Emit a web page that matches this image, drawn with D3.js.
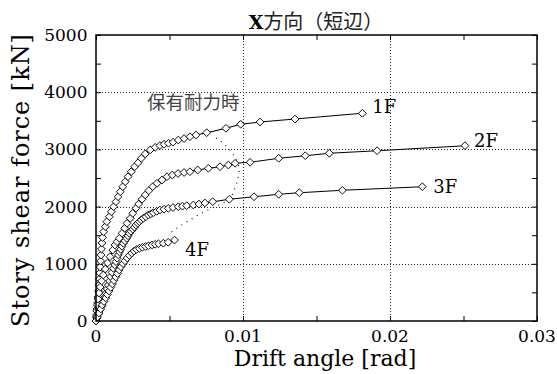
<!DOCTYPE html>
<html><head><meta charset="utf-8">
<script src="https://cdn.jsdelivr.net/npm/d3@7"></script>
<style>
  body { margin: 0; background: #fff; }
  svg { display: block; }
</style>
</head><body>
<svg id="chart" width="557" height="374"></svg>
<script>
// Story drift angle [rad] and story shear force [kN] for each floor
const floors = ["1F", "2F", "3F", "4F"];

const drift1F = [0, 0.000034, 0.000068, 0.000102, 0.000136, 0.00017, 0.000204, 0.000231, 0.000259, 0.000286,
  0.000313, 0.00034, 0.000374, 0.000408, 0.000449, 0.000524, 0.000633, 0.000735, 0.000905, 0.00104,
  0.0012, 0.00136, 0.0015, 0.00165, 0.00182, 0.00199, 0.00218, 0.0024, 0.00263, 0.00286,
  0.00308, 0.00335, 0.00369, 0.00403, 0.00435, 0.00463, 0.00493, 0.00524, 0.0056, 0.00599,
  0.00639, 0.0068, 0.00753, 0.00884, 0.00984, 0.01116, 0.01354, 0.01812];
const shear1F = [0, 105, 210, 315, 420, 524, 629, 734, 839, 944,
  1049, 1154, 1259, 1364, 1460, 1561, 1649, 1736, 1823, 1911,
  1998, 2086, 2173, 2260, 2348, 2435, 2523, 2610, 2698, 2767,
  2844, 2920, 2990, 3037, 3068, 3089, 3107, 3126, 3164, 3190,
  3222, 3252, 3292, 3369, 3439, 3479, 3531, 3631];

const drift2F = [0, 0.00002, 0.000048, 0.000088, 0.000136, 0.000204, 0.000286, 0.000381, 0.000497, 0.000633,
  0.000782, 0.000952, 0.00114, 0.00129, 0.00143, 0.00159, 0.00177, 0.00195, 0.00211, 0.00233,
  0.0025, 0.00272, 0.0029, 0.00313, 0.00335, 0.00359, 0.00386, 0.00415, 0.00449, 0.00483,
  0.00519, 0.00558, 0.00599, 0.00639, 0.00692, 0.00764, 0.00844, 0.009, 0.00946, 0.01048,
  0.01243, 0.01424, 0.01587, 0.01912, 0.0251];
const shear2F = [0, 70, 175, 280, 385, 490, 594, 699, 804, 909,
  1014, 1124, 1241, 1329, 1386, 1446, 1533, 1621, 1708, 1795,
  1883, 1970, 2045, 2128, 2203, 2278, 2348, 2407, 2465, 2523,
  2552, 2579, 2596, 2610, 2640, 2670, 2698, 2727, 2757, 2774,
  2844, 2890, 2932, 2977, 3065];

const drift3F = [0, 0.000068, 0.00017, 0.000272, 0.000388, 0.000497, 0.000592, 0.00068, 0.000762, 0.000837,
  0.000918, 0.001, 0.00109, 0.00118, 0.00127, 0.00136, 0.00144, 0.00152, 0.0016, 0.00168,
  0.00177, 0.00186, 0.00197, 0.00209, 0.00218, 0.00227, 0.00238, 0.0025, 0.00261, 0.00272,
  0.00284, 0.00295, 0.00308, 0.00322, 0.00339, 0.00356, 0.00373, 0.0039, 0.00413, 0.00435,
  0.00463, 0.00492, 0.00524, 0.0056, 0.00588, 0.00617, 0.00662, 0.007, 0.00741, 0.00794,
  0.00907, 0.01075, 0.01243, 0.01383, 0.01676, 0.0222];
const shear3F = [0, 52, 122, 192, 262, 337, 411, 484, 559, 629,
  699, 774, 848, 921, 979, 1037, 1096, 1154, 1206, 1253,
  1306, 1358, 1402, 1446, 1490, 1533, 1568, 1603, 1640, 1678,
  1708, 1736, 1766, 1795, 1823, 1853, 1874, 1893, 1918, 1941,
  1955, 1970, 1984, 1998, 2007, 2016, 2028, 2045, 2063, 2086,
  2128, 2173, 2215, 2243, 2285, 2348];

const drift4F = [0, 0.000102, 0.000204, 0.00032, 0.000429, 0.000544, 0.00066, 0.000776, 0.000884, 0.001,
  0.00112, 0.00122, 0.00134, 0.00146, 0.00158, 0.0017, 0.00184, 0.00197, 0.00212, 0.00227,
  0.00243, 0.00259, 0.00276, 0.00295, 0.00316, 0.00337, 0.00357, 0.00381, 0.00403, 0.00425,
  0.00458, 0.00491, 0.00534];
const shear4F = [0, 70, 140, 210, 280, 341, 402, 463, 524, 586,
  647, 708, 769, 830, 892, 948, 1002, 1052, 1101, 1147,
  1187, 1222, 1250, 1271, 1288, 1302, 1315, 1329, 1341, 1350,
  1360, 1376, 1416];

// Ultimate-strength state (保有耐力時) trace across floors
const ultDrift = [0.00816, 0.00857, 0.00898, 0.00932, 0.00959, 0.00976, 0.00969, 0.00956, 0.00935, 0.00918,
  0.00884, 0.0083, 0.00776, 0.00707, 0.00639, 0.00571, 0.00503];
const ultShear = [3199, 3129, 3024, 2920, 2797, 2675, 2535, 2395, 2255, 2150,
  2089, 2019, 1958, 1871, 1766, 1661, 1538];

const xTickValues = [0, 0.01, 0.02, 0.03];
const xTickLabels = ["0", "0.01", "0.02", "0.03"];
const yTickValues = [0, 1000, 2000, 3000, 4000, 5000];
const yTickLabels = ["0", "1000", "2000", "3000", "4000", "5000"];
const xGrid = [0.01, 0.02];
const yGrid = [1000, 2000, 3000, 4000];
const xMinor = [0, 0.005, 0.01, 0.015, 0.02, 0.025, 0.03];
const yMinor = [0, 500, 1000, 1500, 2000, 2500, 3000, 3500, 4000, 4500, 5000];

const titleMain = "X";
const titleSub = "方向（短辺）";
const xTitle = "Drift angle [rad]";
const yTitle = "Story shear force [kN]";
const ultLabel = "保有耐力時";

const series = [
  { name: floors[0], x: drift1F, y: shear1F },
  { name: floors[1], x: drift2F, y: shear2F },
  { name: floors[2], x: drift3F, y: shear3F },
  { name: floors[3], x: drift4F, y: shear4F }
];

const svg = d3.select("#chart");
const m = { left: 96, right: 537, top: 35, bottom: 321 };
const x = d3.scaleLinear().domain([0, 0.03]).range([m.left, m.right]);
const y = d3.scaleLinear().domain([0, 5000]).range([m.bottom, m.top]);

const serif = "'DejaVu Serif', serif";
const cjk = "'Noto Sans CJK JP', 'Noto Sans CJK SC', sans-serif";

// dotted grid
const grid = svg.append("g").attr("stroke", "#222").attr("stroke-width", 1).attr("stroke-dasharray", "1,2");
grid.selectAll(".gx").data(xGrid).join("line")
  .attr("x1", d => x(d) + 0.5).attr("x2", d => x(d) + 0.5)
  .attr("y1", m.top).attr("y2", m.bottom);
grid.selectAll(".gy").data(yGrid).join("line")
  .attr("y1", d => Math.round(y(d)) + 0.5).attr("y2", d => Math.round(y(d)) + 0.5)
  .attr("x1", m.left).attr("x2", m.right);

// axes with inward ticks on all four sides
const tickLen = 5;
const bottomAxis = d3.axisBottom(x).tickValues(xMinor).tickSize(-tickLen).tickFormat("");
const topAxis = d3.axisTop(x).tickValues(xMinor).tickSize(-tickLen).tickFormat("");
const leftAxis = d3.axisLeft(y).tickValues(yMinor).tickSize(-tickLen).tickFormat("");
const rightAxis = d3.axisRight(y).tickValues(yMinor).tickSize(-tickLen).tickFormat("");

function styleAxis(g) {
  g.select(".domain").remove();
  g.selectAll(".tick line").attr("stroke", "#000").attr("stroke-width", 1);
}
svg.append("g").attr("transform", `translate(0,${m.bottom})`).call(bottomAxis).call(styleAxis);
svg.append("g").attr("transform", `translate(0,${m.top})`).call(topAxis).call(styleAxis);
svg.append("g").attr("transform", `translate(${m.left},0)`).call(leftAxis).call(styleAxis);
svg.append("g").attr("transform", `translate(${m.right},0)`).call(rightAxis).call(styleAxis);

// tick labels
svg.append("g").selectAll("text").data(xTickValues).join("text")
  .attr("x", d => x(d)).attr("y", 341.5)
  .attr("text-anchor", "middle")
  .attr("font-family", serif).attr("font-size", 17)
  .text((d, i) => xTickLabels[i]);
svg.append("g").selectAll("text").data(yTickValues).join("text")
  .attr("x", 87.5).attr("y", d => y(d) + 6)
  .attr("text-anchor", "end")
  .attr("font-family", serif).attr("font-size", 17)
  .text((d, i) => yTickLabels[i]);

// ultimate-strength trace
const line = d3.line().x(d => x(d[0])).y(d => y(d[1]));
const ultPts = ultDrift.map((d, i) => [d, ultShear[i]]);
svg.append("path").attr("d", line(ultPts))
  .attr("fill", "none").attr("stroke", "#000").attr("stroke-width", 1.1)
  .attr("stroke-dasharray", "1,5");

// floor curves: polyline plus open diamond markers
const diamond = d3.symbol().type(d3.symbolSquare).size(30);
series.forEach(s => {
  const pts = s.x.map((d, i) => [d, s.y[i]]);
  const g = svg.append("g");
  g.append("path").attr("d", line(pts))
    .attr("fill", "none").attr("stroke", "#000").attr("stroke-width", 1.1);
  g.selectAll("path.mk").data(pts).join("path").attr("class", "mk")
    .attr("d", diamond)
    .attr("transform", d => `translate(${x(d[0])},${y(d[1])}) rotate(45)`)
    .attr("fill", "#fff").attr("stroke", "#000").attr("stroke-width", 0.9);
});

// frame
svg.append("rect").attr("x", m.left).attr("y", m.top)
  .attr("width", m.right - m.left).attr("height", m.bottom - m.top)
  .attr("fill", "none").attr("stroke", "#000").attr("stroke-width", 1.5);

// floor labels next to the last point of each curve
const labelOffset = { "1F": [10, 0], "2F": [9, 1.5], "3F": [11, 6], "4F": [10.5, 16] };
series.forEach(s => {
  const n = s.x.length - 1;
  const o = labelOffset[s.name];
  svg.append("text")
    .attr("x", x(s.x[n]) + o[0]).attr("y", y(s.y[n]) + o[1])
    .attr("font-family", serif).attr("font-size", 18)
    .text(s.name);
});

svg.append("text").attr("x", 147).attr("y", 108.5)
  .attr("font-family", cjk).attr("font-size", 18.5).attr("fill", "#444")
  .text(ultLabel);

// title
const title = svg.append("text").attr("x", 316).attr("y", 28.5).attr("text-anchor", "middle");
title.append("tspan").attr("font-family", serif).attr("font-weight", "bold").attr("font-size", 19).text(titleMain);
title.append("tspan").attr("font-family", cjk).attr("font-size", 20).attr("fill", "#222").text(titleSub);

// axis titles
svg.append("text").attr("x", 325).attr("y", 366)
  .attr("text-anchor", "middle").attr("font-family", serif).attr("font-size", 22)
  .text(xTitle);
svg.append("text").attr("transform", "translate(29,180.5) rotate(-90)")
  .attr("text-anchor", "middle").attr("font-family", serif).attr("font-size", 24)
  .attr("textLength", 293).attr("lengthAdjust", "spacing")
  .text(yTitle);
</script>
</body></html>
